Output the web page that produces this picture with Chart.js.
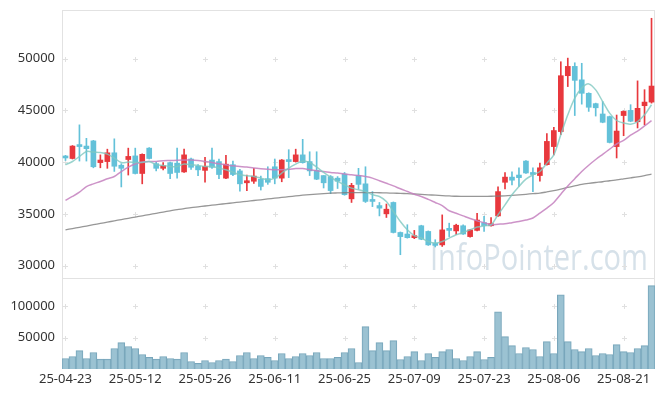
<!DOCTYPE html>
<html>
<head>
<meta charset="utf-8">
<script src="https://cdn.jsdelivr.net/npm/chart.js@4.4.1/dist/chart.umd.min.js"></script>
<style>
  html, body { margin: 0; padding: 0; background: #fff; }
  #wrap { width: 665px; height: 396px; }
</style>
</head>
<body>
<div id="wrap"><canvas id="stockChart"></canvas></div>
<script>
// Trading days
const dates = [
  '25-04-23','25-04-24','25-04-25','25-04-28','25-04-29','25-04-30','25-05-02','25-05-07','25-05-08','25-05-09',
  '25-05-12','25-05-13','25-05-14','25-05-15','25-05-16','25-05-19','25-05-20','25-05-21','25-05-22','25-05-23',
  '25-05-26','25-05-27','25-05-28','25-05-29','25-05-30','25-06-02','25-06-04','25-06-05','25-06-09','25-06-10',
  '25-06-11','25-06-12','25-06-13','25-06-16','25-06-17','25-06-18','25-06-19','25-06-20','25-06-23','25-06-24',
  '25-06-25','25-06-26','25-06-27','25-06-30','25-07-01','25-07-02','25-07-03','25-07-04','25-07-07','25-07-08',
  '25-07-09','25-07-10','25-07-11','25-07-14','25-07-15','25-07-16','25-07-17','25-07-18','25-07-21','25-07-22',
  '25-07-23','25-07-24','25-07-25','25-07-28','25-07-29','25-07-30','25-07-31','25-08-01','25-08-04','25-08-05',
  '25-08-06','25-08-07','25-08-08','25-08-11','25-08-12','25-08-13','25-08-14','25-08-18','25-08-19','25-08-20',
  '25-08-21','25-08-22','25-08-25','25-08-26','25-08-27'
];

// OHLC prices
const opens = [
  40550,40350,41650,41550,42050,39950,40050,40900,39700,40250,
  40600,38900,41350,39850,39400,39950,39900,39050,40300,39600,
  39200,40200,40050,38450,39750,39150,38000,38150,38350,38400,
  39550,38450,40200,40050,40700,40050,39200,38700,38600,38450,
  38850,36450,38700,37900,36350,35800,35000,36100,33200,33050,
  32700,33850,33300,32100,32000,33600,33350,33850,32800,33400,
  34150,33850,34800,38050,38550,38750,40100,39000,38700,39750,
  41500,42950,48350,49250,47950,46650,45650,44650,44400,41500,
  44500,45000,43900,45450,45800
];
const highs = [
  40650,41600,43600,42300,42100,40700,41250,42250,39850,41350,
  41350,40800,41400,40000,39950,40000,41350,41250,40400,39750,
  40450,41350,40300,40650,40100,39300,38750,39400,38650,39550,
  40300,40250,41200,41250,42200,41000,41000,38700,38700,38600,
  39000,37950,39400,39550,37150,36100,35950,36150,33250,33950,
  33400,33900,33350,32500,34900,34100,34000,33950,33500,35050,
  34750,34650,37600,39000,39050,39450,40150,39450,39900,42750,
  43350,49700,50050,49600,49550,46700,45700,45850,44450,44550,
  44950,45550,47850,47000,53900
];
const lows = [
  40150,40300,40100,40100,39450,39450,39400,39100,37600,38750,
  38850,37900,40300,39150,39250,38400,38450,39000,39300,38700,
  38050,39400,38400,38400,38700,37200,37250,37950,37300,37850,
  37900,38100,38500,40000,39900,38700,38300,37500,36950,37450,
  36800,36100,37400,36100,35700,34800,34650,33150,31050,32650,
  32600,32500,31950,31800,31850,32800,33000,33000,32750,33350,
  33300,33800,34750,37400,37800,37650,38900,37150,38150,39700,
  40700,42650,47300,44500,45600,44900,44450,43800,41850,40400,
  42550,43900,43300,43600,45700
];
const closes = [
  40400,41550,41500,41300,39550,40200,40900,39600,39400,40550,
  38900,40750,40350,39400,39650,38900,39000,40700,39500,39250,
  39600,39500,38800,39800,38800,37900,38200,38650,37650,38050,
  38450,40200,40050,40700,39950,39150,38350,38000,37250,38150,
  36850,37750,37850,36200,36200,35550,35450,33200,32800,32700,
  32850,32550,32000,31950,33450,33400,33900,33050,33450,34400,
  33850,34050,37150,38550,38250,38500,38950,38800,39450,42000,
  43050,48350,49250,47900,46650,45300,45250,43850,41900,43000,
  44900,43950,45200,45800,47350
];

// Moving averages (5 / 20 / 60 days)
const ma5 = [
  39740,40060,40540,41030,40970,40930,40770,40390,39960,40000,
  39960,39960,40060,39740,39680,39580,39580,39810,39740,39680,
  39580,39580,39420,39260,39030,38770,38680,38610,38450,38290,
  38450,38940,39420,39810,40100,39960,39520,39000,38550,38130,
  37810,37490,37320,37160,36840,36680,36190,35230,34260,33460,
  32900,32660,32330,32180,32330,32660,32980,33200,33460,33720,
  33850,33940,34910,35870,36840,37640,38350,38770,39090,39900,
  40700,42640,44570,46180,47150,47560,46980,45850,44730,44020,
  43770,43670,43920,44570,45540
];
const ma20 = [
  36300,36680,37100,37640,37900,38130,38390,38610,39090,39520,
  39810,40000,40060,40060,40130,40150,40180,40200,40200,40150,
  40060,39960,39840,39740,39640,39580,39520,39420,39360,39320,
  39260,39260,39300,39380,39380,39260,39160,39090,39000,38940,
  38840,38780,38700,38600,38450,38200,37950,37700,37420,37160,
  36900,36680,36400,36100,35800,35300,35050,34800,34550,34320,
  34150,33950,34000,34050,34150,34250,34400,34600,35070,35550,
  36100,36900,37700,38400,39100,39700,40250,40750,41250,41750,
  42100,42600,43000,43500,44000
];
const ma60 = [
  33450,33580,33700,33820,33950,34070,34200,34320,34450,34570,
  34690,34810,34930,35050,35170,35290,35410,35500,35600,35680,
  35760,35840,35910,35990,36060,36140,36210,36290,36360,36440,
  36510,36590,36660,36730,36800,36860,36910,36960,37000,37020,
  37040,37050,37060,37060,37050,37040,37020,37000,36980,36950,
  36920,36880,36840,36800,36760,36730,36700,36690,36680,36680,
  36690,36700,36720,36740,36780,36830,36890,36950,37000,37120,
  37250,37400,37560,37700,37850,37950,38030,38100,38200,38280,
  38380,38480,38580,38700,38840
];

// Volume
const volumes = [
  16800,19900,29400,16800,26300,15700,15700,32600,42100,35800,
  32600,23100,18400,15700,19900,16800,15700,26300,12000,8900,
  13600,10400,13600,15700,12000,21500,26300,16800,21500,18400,
  13600,24700,16800,19900,24700,21500,26300,16800,16800,18400,
  26300,32600,10400,67400,29400,42100,29400,45200,15200,19900,
  27800,13600,24700,18400,27800,31000,16800,13600,19900,27800,
  15200,18400,91100,51600,37300,24700,34200,31000,19900,43700,
  24700,118000,43700,31000,27800,32600,21500,24700,23100,38900,
  27800,26300,32600,37300,132800
];

// Axis tick values
const priceTicks = [30000, 35000, 40000, 45000, 50000];
const volumeTicks = [50000, 100000];

const UP = '#e8383d';
const DOWN = '#63c1d9';
const candleColors = closes.map((c, i) => (c >= opens[i] ? UP : DOWN));
const labelFont = { family: '"Noto Sans", sans-serif', size: 13 };

// Grid crosses, frames and watermark
const decorPlugin = {
  id: 'decor',
  beforeDatasetsDraw(chart) {
    const { ctx, chartArea, scales } = chart;
    const { x, y, yVol } = scales;
    ctx.save();

    // watermark
    ctx.font = '36px "Open Sans", sans-serif';
    ctx.fillStyle = 'rgba(196, 212, 224, 0.7)';
    ctx.textAlign = 'right';
    ctx.textBaseline = 'alphabetic';
    ctx.fillText('InfoPointer.com', chartArea.right - 7, y.bottom - 8, 218);

    // small "+" marks where the ticks cross
    ctx.strokeStyle = '#e0e0e0';
    ctx.lineWidth = 1;
    const xs = dates.map((d, i) => i).filter((i) => i % 10 === 0).map((i) => Math.round(x.getPixelForValue(i)) + 0.5);
    const ys = priceTicks.map((v) => Math.round(y.getPixelForValue(v)) + 0.5)
      .concat(volumeTicks.map((v) => Math.round(yVol.getPixelForValue(v)) + 0.5));
    xs.forEach((px) => {
      ys.forEach((py) => {
        ctx.beginPath();
        ctx.moveTo(px - 2.5, py);
        ctx.lineTo(px + 2.5, py);
        ctx.moveTo(px, py - 2.5);
        ctx.lineTo(px, py + 2.5);
        ctx.stroke();
      });
    });

    // panel frames
    ctx.strokeStyle = '#e2e2e2';
    const left = Math.round(chartArea.left) + 0.5;
    const right = Math.round(chartArea.right) - 0.5;
    ctx.strokeRect(left, Math.round(y.top) + 0.5, right - left, Math.round(y.bottom - y.top));
    ctx.strokeRect(left, Math.round(yVol.top) + 0.5, right - left, Math.round(yVol.bottom - yVol.top) - 1);
    ctx.restore();
  },
};

// keep the y axes at a fixed width and drop the label padding above/below
const fitYAxis = (scale) => {
  scale.width = 62;
  scale.paddingTop = 0;
  scale.paddingBottom = 0;
};

const ctx = document.getElementById('stockChart').getContext('2d');

const stockChart = new Chart(ctx, {
  data: {
    labels: dates,
    datasets: [
      {
        type: 'line',
        label: 'MA5',
        data: ma5,
        yAxisID: 'y',
        borderColor: 'rgba(128, 200, 192, 0.8)',
        borderWidth: 1.5,
        pointRadius: 0,
        tension: 0.3,
        order: 0,
      },
      {
        type: 'line',
        label: 'MA20',
        data: ma20,
        yAxisID: 'y',
        borderColor: 'rgba(196, 128, 190, 0.85)',
        borderWidth: 1.5,
        pointRadius: 0,
        tension: 0.3,
        order: 0,
      },
      {
        type: 'line',
        label: 'MA60',
        data: ma60,
        yAxisID: 'y',
        borderColor: 'rgba(125, 125, 125, 0.8)',
        borderWidth: 1.3,
        pointRadius: 0,
        tension: 0.3,
        order: 0,
      },
      {
        type: 'bar',
        label: 'wick',
        data: lows.map((l, i) => [l, highs[i]]),
        yAxisID: 'y',
        backgroundColor: candleColors,
        barThickness: 1,
        grouped: false,
        order: 2,
      },
      {
        type: 'bar',
        label: 'body',
        data: opens.map((o, i) => [o, closes[i]]),
        yAxisID: 'y',
        backgroundColor: candleColors,
        barThickness: 5,
        minBarLength: 2,
        grouped: false,
        order: 1,
      },
      {
        type: 'bar',
        label: 'Volume',
        data: volumes,
        yAxisID: 'yVol',
        backgroundColor: 'rgba(150, 191, 208, 0.95)',
        borderColor: '#78a6bb',
        borderWidth: 1,
        barPercentage: 1,
        categoryPercentage: 1,
        grouped: false,
        order: 3,
      },
    ],
  },
  options: {
    responsive: true,
    maintainAspectRatio: false,
    animation: false,
    layout: { padding: { top: 10, right: 10, left: 0, bottom: 0 } },
    plugins: {
      legend: { display: false },
      tooltip: { enabled: false },
    },
    scales: {
      x: {
        type: 'category',
        offset: true,
        grid: { display: false, drawTicks: false },
        border: { display: false },
        ticks: {
          autoSkip: false,
          maxRotation: 0,
          padding: 2,
          color: '#333',
          font: labelFont,
          callback: (value, index) => (index % 10 === 0 ? dates[index] : null),
        },
        afterFit: (scale) => { scale.height = 27; },
      },
      yVol: {
        type: 'linear',
        position: 'left',
        stack: 'panels',
        stackWeight: 91,
        min: 0,
        max: 145000,
        grid: { display: false, drawTicks: false },
        border: { display: false },
        ticks: { color: '#333', font: labelFont, padding: 7, callback: (v) => String(v) },
        afterBuildTicks: (scale) => { scale.ticks = volumeTicks.map((v) => ({ value: v })); },
        afterFit: fitYAxis,
      },
      y: {
        type: 'linear',
        position: 'left',
        stack: 'panels',
        stackWeight: 268,
        min: 28800,
        max: 54700,
        grid: { display: false, drawTicks: false },
        border: { display: false },
        ticks: { color: '#333', font: labelFont, padding: 7, callback: (v) => String(v) },
        afterBuildTicks: (scale) => { scale.ticks = priceTicks.map((v) => ({ value: v })); },
        afterFit: fitYAxis,
      },
    },
  },
  plugins: [decorPlugin],
});
</script>
</body>
</html>
